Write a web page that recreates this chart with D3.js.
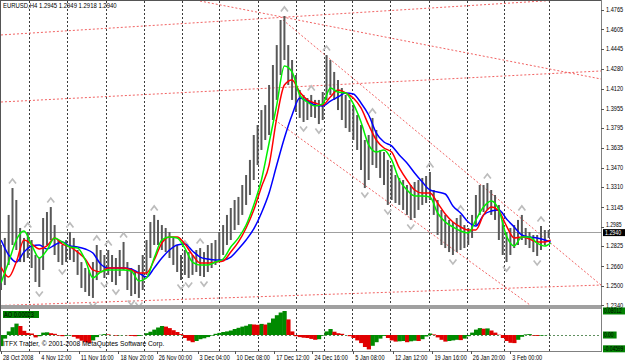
<!DOCTYPE html>
<html><head><meta charset="utf-8">
<script src="https://cdn.jsdelivr.net/npm/d3@7/dist/d3.min.js"></script>
<style>
body{margin:0;background:#fff;}
svg{display:block;font-family:"Liberation Sans",Arial,sans-serif;}
</style>
</head><body>
<svg id="c" width="625" height="363"></svg>
<script>
// ---------- DATA ----------
const title = "EURUSD,H4  1.2945 1.2949 1.2918 1.2940";
const barsPerSample = 3; // each sample = 3 H4 bars
const highs = [1.2834,1.2892,1.3081,1.3302,1.3204,1.2974,1.2892,1.2941,1.2875,1.2752,
 1.2727,1.3056,1.3105,1.3146,1.2998,1.2875,1.2834,1.2875,1.2941,1.2892,
 1.2793,1.2694,1.2645,1.2629,1.2694,1.2834,1.2793,1.2752,1.2793,1.2752,
 1.2727,1.2793,1.2859,1.2694,1.2645,1.2612,1.2670,1.2752,1.2875,1.3023,
 1.3081,1.3040,1.2998,1.2974,1.2941,1.2892,1.2834,1.2752,1.2793,1.2776,
 1.2752,1.2793,1.2809,1.2776,1.2834,1.2850,1.2875,1.2941,1.2998,1.3081,
 1.3138,1.3204,1.3229,1.3327,1.3409,1.3533,1.3738,1.3820,1.3943,1.3984,
 1.4149,1.4313,1.4477,1.4683,1.4716,1.4477,1.4354,1.4231,1.4108,1.4067,
 1.4042,1.4067,1.4026,1.4026,1.4091,1.4395,1.4354,1.4256,1.4190,1.4124,
 1.4067,1.4026,1.3984,1.3902,1.3820,1.3697,1.3738,1.3878,1.3779,1.3615,
 1.3598,1.3533,1.3491,1.3409,1.3385,1.3368,1.3327,1.3327,1.3352,1.3368,
 1.3385,1.3401,1.3434,1.3286,1.3204,1.3122,1.3081,1.3040,1.3023,1.3056,
 1.3081,1.2998,1.2974,1.3081,1.3245,1.3327,1.3327,1.3343,1.3286,1.3245,
 1.3163,1.3040,1.2941,1.2974,1.2998,1.3040,1.3081,1.2974,1.2941,1.2916,
 1.2916,1.2990,1.2957,1.2957];
const lows = [1.2464,1.2505,1.2670,1.2834,1.2793,1.2694,1.2694,1.2727,1.2645,1.2530,
 1.2489,1.2629,1.2834,1.2875,1.2752,1.2694,1.2670,1.2694,1.2711,1.2694,
 1.2588,1.2481,1.2448,1.2415,1.2399,1.2546,1.2612,1.2563,1.2588,1.2530,
 1.2505,1.2579,1.2629,1.2464,1.2415,1.2431,1.2399,1.2464,1.2588,1.2727,
 1.2834,1.2834,1.2793,1.2776,1.2727,1.2670,1.2612,1.2546,1.2588,1.2563,
 1.2588,1.2612,1.2579,1.2571,1.2612,1.2645,1.2670,1.2694,1.2752,1.2834,
 1.2875,1.2957,1.2998,1.3081,1.3163,1.3245,1.3368,1.3491,1.3615,1.3697,
 1.3738,1.3861,1.4026,1.4231,1.4354,1.4149,1.4026,1.3927,1.3878,1.3845,
 1.3861,1.3886,1.3878,1.3828,1.3861,1.4026,1.4067,1.4026,1.3943,1.3861,
 1.3795,1.3763,1.3697,1.3615,1.3450,1.3302,1.3368,1.3491,1.3467,1.3385,
 1.3327,1.3163,1.3204,1.3179,1.3163,1.3122,1.3081,1.3040,1.3056,1.3122,
 1.3163,1.3179,1.3204,1.3081,1.2916,1.2834,1.2809,1.2776,1.2752,1.2776,
 1.2793,1.2809,1.2834,1.2892,1.2998,1.3081,1.3105,1.3122,1.3081,1.3040,
 1.2875,1.2752,1.2694,1.2752,1.2809,1.2834,1.2875,1.2834,1.2809,1.2776,
 1.2744,1.2793,1.2834,1.2892];
// Alligator lines, sampled at maIdx (sample index)
const maIdx = d3.range(0, 143, 2).concat([143.5]);
const lips = [1.2522,1.2694,1.2875,1.2949,1.2834,1.2727,1.2793,1.2892,1.2859,1.2818,
 1.2809,1.2711,1.2563,1.2612,1.2629,1.2629,1.2629,1.2620,1.2538,1.2563,
 1.2727,1.2875,1.2900,1.2892,1.2809,1.2694,1.2670,1.2670,1.2694,1.2719,
 1.2818,1.2892,1.2998,1.3163,1.3368,1.3672,1.3984,1.4305,1.4256,1.4067,
 1.4009,1.3976,1.3993,1.4124,1.4091,1.4083,1.3993,1.3845,1.3656,1.3598,
 1.3615,1.3533,1.3368,1.3286,1.3237,1.3237,1.3229,1.3097,1.3023,1.2982,
 1.2949,1.2933,1.3040,1.3146,1.3196,1.3122,1.2908,1.2826,1.2900,1.2900,
 1.2850,1.2826,1.2850];
const teeth = [1.2653,1.2571,1.2694,1.2875,1.2842,1.2801,1.2826,1.2892,1.2842,1.2818,
 1.2776,1.2719,1.2629,1.2612,1.2645,1.2645,1.2645,1.2629,1.2604,1.2604,
 1.2711,1.2850,1.2900,1.2900,1.2842,1.2752,1.2686,1.2686,1.2694,1.2703,
 1.2776,1.2859,1.2974,1.3122,1.3311,1.3491,1.3878,1.4149,1.4190,1.4091,
 1.4026,1.4001,1.3984,1.4050,1.4108,1.4083,1.4042,1.3960,1.3820,1.3697,
 1.3631,1.3598,1.3467,1.3368,1.3286,1.3261,1.3261,1.3179,1.3089,1.3023,
 1.2982,1.2957,1.2957,1.3081,1.3146,1.3113,1.2990,1.2892,1.2900,1.2883,
 1.2859,1.2859,1.2875];
const jaw = [1.2875,1.2752,1.2694,1.2776,1.2826,1.2834,1.2801,1.2834,1.2859,1.2826,
 1.2818,1.2801,1.2768,1.2678,1.2645,1.2645,1.2645,1.2637,1.2604,1.2571,
 1.2645,1.2727,1.2793,1.2834,1.2842,1.2785,1.2735,1.2719,1.2711,1.2711,
 1.2735,1.2801,1.2875,1.2966,1.3097,1.3261,1.3491,1.3713,1.3902,1.4042,
 1.4017,1.3984,1.3976,1.4017,1.4050,1.4083,1.4075,1.4001,1.3902,1.3754,
 1.3680,1.3648,1.3574,1.3508,1.3426,1.3352,1.3286,1.3270,1.3253,1.3155,
 1.3097,1.3023,1.2990,1.3081,1.3113,1.3122,1.3048,1.2982,1.2916,1.2900,
 1.2892,1.2875,1.2859];
// Awesome Oscillator per sample
const ao = [-0.037,-0.012,0.012,0.026,0.038,0.030,0.014,0.007,0.005,-0.008,
 -0.004,0.008,0.009,0.006,0.004,-0.002,-0.004,-0.002,-0.001,-0.006,
 -0.012,-0.019,-0.024,-0.026,-0.018,-0.007,0.001,0.003,0.002,0.000,
 -0.002,-0.001,0.000,-0.001,-0.003,-0.004,-0.003,0.000,0.006,0.011,
 0.018,0.025,0.030,0.028,0.023,0.016,0.010,0.003,-0.010,-0.019,
 -0.024,-0.020,-0.014,-0.011,-0.007,-0.002,0.004,0.007,0.010,0.012,
 0.015,0.020,0.024,0.028,0.031,0.036,0.035,0.034,0.037,0.035,
 0.041,0.055,0.066,0.075,0.080,0.052,0.012,-0.004,-0.007,-0.009,
 -0.010,-0.013,-0.016,-0.014,-0.002,0.012,0.020,0.011,0.006,0.004,
 0.000,-0.004,-0.010,-0.018,-0.027,-0.040,-0.048,-0.036,-0.024,-0.012,
 -0.003,-0.010,-0.018,-0.022,-0.021,-0.020,-0.024,-0.021,-0.019,-0.020,
 -0.014,-0.005,0.005,0.002,-0.008,-0.016,-0.022,-0.020,-0.018,-0.016,
 -0.017,-0.012,-0.004,0.008,0.018,0.023,0.021,0.022,0.015,0.008,
 0.001,-0.010,-0.020,-0.026,-0.027,-0.016,-0.006,0.002,0.003,-0.002,
 -0.003,-0.002,-0.001,0.0002];
const aoLabel = "AO 0.00023";
const aoTicks = [0.08012, 0.00, -0.04599];
const aoTickLabels = ["0.08012", "0.00", "-0.04599"];
const priceTicks = [1.4765,1.4605,1.4445,1.4280,1.4120,1.3955,1.3795,1.3635,1.3470,1.3310,1.3145,1.2985,1.2825,1.2660,1.2500,1.2340];
const bid = 1.2940;
const timeLabels = ["28 Oct 2008","4 Nov 12:00","11 Nov 16:00","18 Nov 20:00","26 Nov 00:00","3 Dec 04:00","10 Dec 08:00","17 Dec 12:00","24 Dec 16:00","5 Jan 08:00","12 Jan 12:00","19 Jan 16:00","26 Jan 20:00","3 Feb 00:00"];
const timeLabelBars = [0,30,61,92,122,154,183,214,244,276,307,338,368,399];
const gridBars = [22,52,82,112,141.5,171,201,231,253,275,305,335,365,394,429];
// trend lines: [bar1, price1, bar2, price2]
const trendLines = [
  [0,1.4560,470,1.4869],
  [0,1.4009,470,1.4264],
  [155.9,1.4839,470,1.4198],
  [220.9,1.4683,470,1.2505],
  [214.6,1.3861,414.4,1.2341],
  [0,1.2337,470,1.2505]
];
const copyright = "ITFX Trader, \u00A9 2001-2008 MetaQuotes Software Corp.";

// ---------- LAYOUT ----------
const L = 1, R = 601, mainTop = 1, mainBot = 305, aoTop = 309, aoBot = 351;
const svg = d3.select("#c");
const x = d3.scaleLinear().domain([0, 470]).range([L, R]);
const y = d3.scaleLinear().domain([1.2341, 1.4839]).range([mainBot, mainTop]);
const ya = d3.scaleLinear().domain([-0.0533, 0.0867]).range([aoBot, aoTop]);
const xs = k => x(k * barsPerSample);
const FS = 7, SX = 0.8;
function txt(g, tx, ty, s, opt = {}) {
  return g.append("text").attr("transform", `translate(${tx},${ty}) scale(${opt.sx || SX},1)`)
    .attr("font-size", opt.fs || FS).attr("fill", opt.fill || "#000").text(s);
}

svg.append("rect").attr("width",625).attr("height",363).attr("fill","#fff");
const defs = svg.append("defs");
defs.append("clipPath").attr("id","mainClip").append("rect")
  .attr("x",L).attr("y",mainTop).attr("width",R-L).attr("height",mainBot-mainTop);
defs.append("clipPath").attr("id","aoClip").append("rect")
  .attr("x",L).attr("y",aoTop).attr("width",R-L).attr("height",aoBot-aoTop);

// grid
svg.append("g").selectAll("line").data(gridBars).join("line")
  .attr("x1",d=>Math.round(x(d))+0.5).attr("x2",d=>Math.round(x(d))+0.5)
  .attr("y1",mainTop).attr("y2",aoBot)
  .attr("stroke","#3c3c3c").attr("stroke-width",1).attr("stroke-dasharray","2,2");

const main = svg.append("g").attr("clip-path","url(#mainClip)");
// trend lines
main.append("g").selectAll("line").data(trendLines).join("line")
  .attr("x1",d=>x(d[0])).attr("y1",d=>y(d[1])).attr("x2",d=>x(d[2])).attr("y2",d=>y(d[3]))
  .attr("stroke","#f04848").attr("stroke-width",1).attr("stroke-dasharray","2,2").attr("opacity",0.85);
// bid line
main.append("line").attr("x1",L).attr("x2",R).attr("y1",Math.round(y(bid))+0.5).attr("y2",Math.round(y(bid))+0.5)
  .attr("stroke","#a0a0a0").attr("stroke-width",1);

// bars
main.append("g").selectAll("line").data(highs).join("line")
  .attr("x1",(d,i)=>xs(i)).attr("x2",(d,i)=>xs(i))
  .attr("y1",d=>y(d)).attr("y2",(d,i)=>y(lows[i]))
  .attr("stroke","#585858").attr("stroke-width",2);

// fractals
const ups = [], downs = [];
for (let k = 1; k < highs.length - 1; k++) {
  if (highs[k] > highs[k-1] && highs[k] > highs[k+1]) ups.push(k);
  if (lows[k] < lows[k-1] && lows[k] < lows[k+1]) downs.push(k);
}
main.append("g").selectAll("path").data(ups).join("path")
  .attr("transform",k=>`translate(${xs(k)},${y(highs[k])-7})`)
  .attr("d","M-3.5,2.5L0,-2L3.5,2.5").attr("fill","none").attr("stroke","#bcbcbc").attr("stroke-width",1.7);
main.append("g").selectAll("path").data(downs).join("path")
  .attr("transform",k=>`translate(${xs(k)},${y(lows[k])+7})`)
  .attr("d","M-3.5,-2.5L0,2L3.5,-2.5").attr("fill","none").attr("stroke","#bcbcbc").attr("stroke-width",1.7);

// alligator
const lineGen = d3.line().x((d,i)=>xs(maIdx[i])).y(d=>y(d)).curve(d3.curveMonotoneX);
[[jaw,"#0000ff"],[teeth,"#ff0000"],[lips,"#00f000"]].forEach(([arr,c])=>{
  main.append("path").datum(arr).attr("d",lineGen).attr("fill","none").attr("stroke",c).attr("stroke-width",1.5);
});

// separator
svg.append("rect").attr("x",0).attr("y",mainBot).attr("width",R+1).attr("height",aoTop-mainBot).attr("fill","#a0a0a0");

// AO panel
const aoG = svg.append("g").attr("clip-path","url(#aoClip)");
aoG.append("line").attr("x1",L).attr("x2",R).attr("y1",Math.round(ya(0))+0.5).attr("y2",Math.round(ya(0))+0.5)
  .attr("stroke","#5f8f5f").attr("stroke-dasharray","2,2");
const bw = x(barsPerSample) - x(0);
aoG.append("g").selectAll("rect").data(ao).join("rect")
  .attr("x",(d,i)=>xs(i)-bw/2).attr("width",bw+0.4)
  .attr("y",d=>Math.min(ya(0),ya(d))).attr("height",d=>Math.abs(ya(d)-ya(0)))
  .attr("fill",(d,i)=> (i===0 || d > ao[i-1]) ? "#008a00" : "#e00000");
svg.append("rect").attr("x",3).attr("y",311).attr("width",36).attr("height",7).attr("fill","#008000");
txt(svg, 4, 317, aoLabel);
txt(svg, 3, 346, copyright, {sx:0.95});

// frame
svg.append("line").attr("x1",0.5).attr("x2",0.5).attr("y1",0).attr("y2",aoBot).attr("stroke","#555");
svg.append("line").attr("x1",0).attr("x2",R+1).attr("y1",0.5).attr("y2",0.5).attr("stroke","#555");
svg.append("line").attr("x1",R+0.5).attr("x2",R+0.5).attr("y1",0).attr("y2",aoBot).attr("stroke","#808080");
svg.append("line").attr("x1",0).attr("x2",R+1).attr("y1",aoBot+0.5).attr("y2",aoBot+0.5).attr("stroke","#808080");

// title
txt(svg, 3, 8, title, {sx:0.85});

// price axis
const pa = svg.append("g");
pa.selectAll("line").data(priceTicks).join("line")
  .attr("x1",R).attr("x2",R+3).attr("y1",d=>Math.round(y(d))+0.5).attr("y2",d=>Math.round(y(d))+0.5).attr("stroke","#555");
priceTicks.forEach(d => {
  const near = Math.abs(y(d) - y(bid)) < 8;
  txt(pa, R+5, y(d) + (near ? 0.6 : 2.4), d.toFixed(4), near ? {fs:6.4} : {});
});
svg.append("rect").attr("x",R+2).attr("y",y(bid)-3).attr("width",22).attr("height",7).attr("fill","#000");
txt(svg, R+4, y(bid)+3, bid.toFixed(4), {fill:"#fff", fs:6.6});

// AO axis
const aa = svg.append("g");
aoTicks.forEach((v,i)=>{
  const w = Math.min(22, aoTickLabels[i].length*2.9+2);
  aa.append("rect").attr("x",R+2).attr("y",ya(v)-3.5).attr("width",w).attr("height",7).attr("fill","#008000");
  txt(aa, R+3, ya(v)+2.4, aoTickLabels[i], {sx:0.7});
});

// time axis
const ta = svg.append("g");
ta.selectAll("line").data(timeLabelBars).join("line")
  .attr("x1",d=>Math.round(x(d))+0.5).attr("x2",d=>Math.round(x(d))+0.5).attr("y1",aoBot).attr("y2",aoBot+3).attr("stroke","#555");
timeLabels.forEach((d,i)=> txt(ta, x(timeLabelBars[i])+2, 360, d));
</script>
</body></html>
